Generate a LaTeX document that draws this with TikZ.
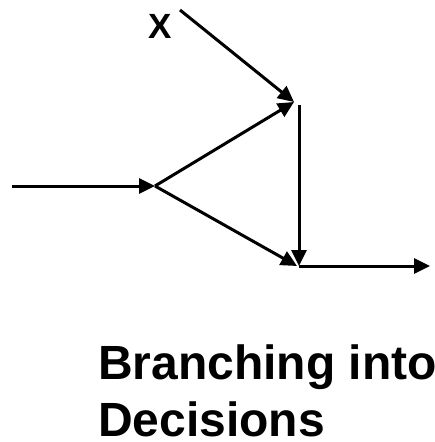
\documentclass[tikz,border=0pt]{standalone}
\usepackage{fontspec}
\setmainfont{Liberation Sans}
\usetikzlibrary{arrows.meta}
\begin{document}
\begin{tikzpicture}[x=1pt,y=-1pt]
\tikzset{conn/.style={line width=3pt,-{Triangle[length=16pt,width=15pt]}},
  lbl/.style={inner sep=0pt}}
\useasboundingbox (0,0) rectangle (434,442);
\coordinate (in) at (12,186);
\coordinate (v) at (155,186);
\coordinate (xs) at (180,10);
\coordinate (top) at (294,102);
\coordinate (topv) at (299,105);
\coordinate (bot) at (299,266);
\coordinate (botd) at (297,266);
\coordinate (out) at (430,266);
\node[lbl,anchor=base,font=\bfseries\fontsize{35}{42}\selectfont] (x) at (160,38) {X};
\node[lbl,anchor=north west,align=left,font=\bfseries\fontsize{48}{57}\selectfont] (title) at (98,345) {Branching into\\Decisions};
\draw[conn] (in) -- (v);
\draw[conn] (xs) -- (top);
\draw[conn] (v) -- (top);
\draw[conn] (topv) -- (bot);
\draw[conn] (v) -- (botd);
\draw[conn] (bot) -- (out);
\end{tikzpicture}
\end{document}
